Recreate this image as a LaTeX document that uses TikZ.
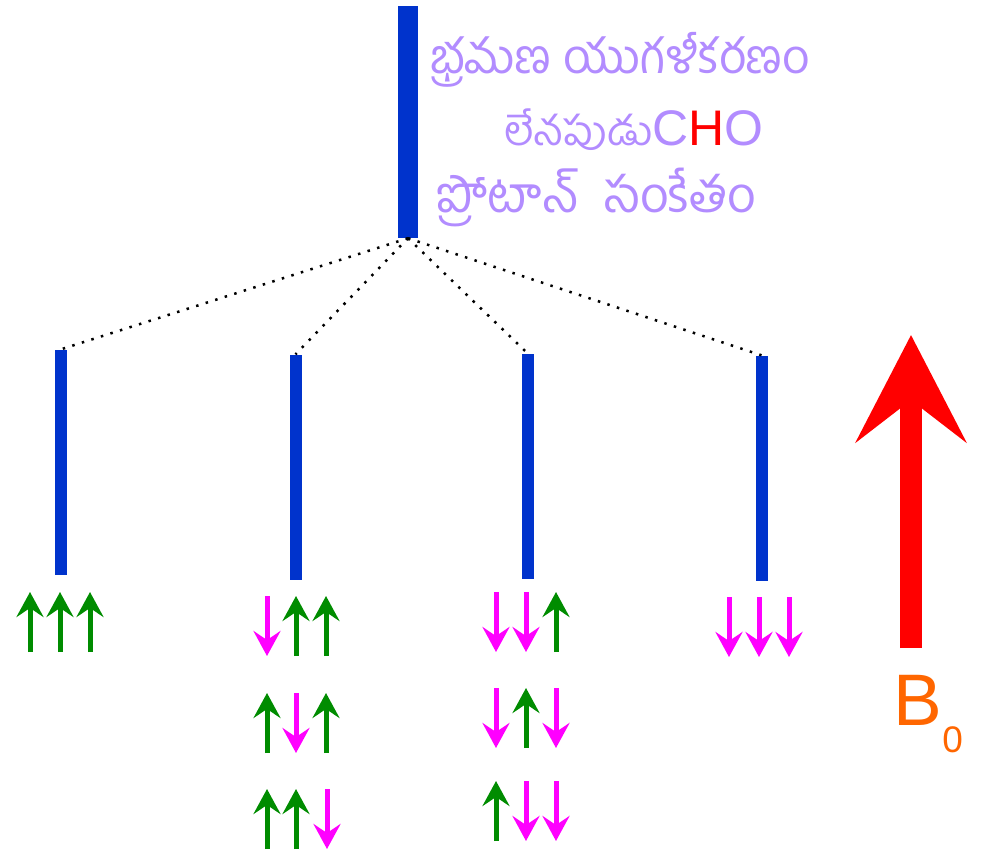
\documentclass[tikz,border=0pt]{standalone}
\usepackage{fontspec}
\usetikzlibrary{arrows.meta}
\setmainfont{Liberation Sans}
\newfontfamily\telugu[Script=Telugu]{Hind Guntur}
\definecolor{barblue}{RGB}{0,51,204}
\definecolor{spingreen}{RGB}{0,140,0}
\definecolor{spinpink}{RGB}{255,0,255}
\definecolor{lilac}{RGB}{178,140,255}
\definecolor{fieldred}{RGB}{255,0,0}
\definecolor{fieldorange}{RGB}{255,102,0}

\begin{document}
\begin{tikzpicture}[x=1pt, y=-1pt,
  bar/.style={fill=barblue, inner sep=0pt, minimum width=12pt, minimum height=225pt},
  split/.style={dash pattern=on 2.5pt off 7.5pt, line width=2.5pt},
  spin/.style={line width=5pt, -{Stealth[length=25pt, width=27pt, inset=9pt]}},
  note/.style={text=lilac, inner sep=0pt, anchor=base, text height=30pt, text depth=8pt}]
  \useasboundingbox (0,0) rectangle (987,852);

  % energy levels
  \node[bar, minimum width=20pt, minimum height=232pt] (top) at (408,122) {};
  \node[bar] (b1) at (61,462) {};
  \node[bar] (b2) at (295.5,467) {};
  \node[bar] (b3) at (527.5,466) {};
  \node[bar] (b4) at (761.5,468) {};
  \foreach \b in {b1,b2,b3,b4}
    \draw[split] (top.south) -- (\b.north);

  % caption
  \node[note, font=\telugu\fontsize{48}{54}\selectfont] (line1) at (620,73) {భ్రమణ యుగళీకరణం};
  \node[note, font=\fontsize{50}{56}\selectfont, text depth=4pt] (line2) at (634,145)
    {{\telugu\fontsize{41}{48}\selectfont లేనపుడు}C\textcolor{fieldred}{H}O};
  \node[note, font=\telugu\fontsize{50}{56}\selectfont, text height=26pt] (line3) at (597,212)
    {ప్రోటాన్\hspace{12pt} సంకేతం};

  % spin states
  \foreach \x/\y in {30/592, 60/592, 90/592, 296/596, 326/596, 267/693, 326/693,
                     267/789, 296/789, 556/592, 526/688, 496/781}
    \draw[spin, spingreen] (\x,\y+60) -- (\x,\y);
  \foreach \x/\y in {267/596, 296/693, 327/789, 496/592, 526/592, 496/688, 556/688,
                     526/781, 556/781, 729/597, 759/597, 789/597}
    \draw[spin, spinpink] (\x,\y) -- (\x,\y+60);

  % field
  \draw[fieldred, line width=22pt, -{Stealth[length=107pt, width=110pt, inset=42pt]}]
    (911,648) -- (911,335);
  \node[text=fieldorange, inner sep=0pt, anchor=base west, font=\fontsize{73}{80}\selectfont]
    (bee) at (893,725) {B};
  \node[text=fieldorange, inner sep=0pt, anchor=base west, font=\fontsize{37}{40}\selectfont]
    (zero) at (bee.base east) [yshift=-27pt] {0};
\end{tikzpicture}
\end{document}
